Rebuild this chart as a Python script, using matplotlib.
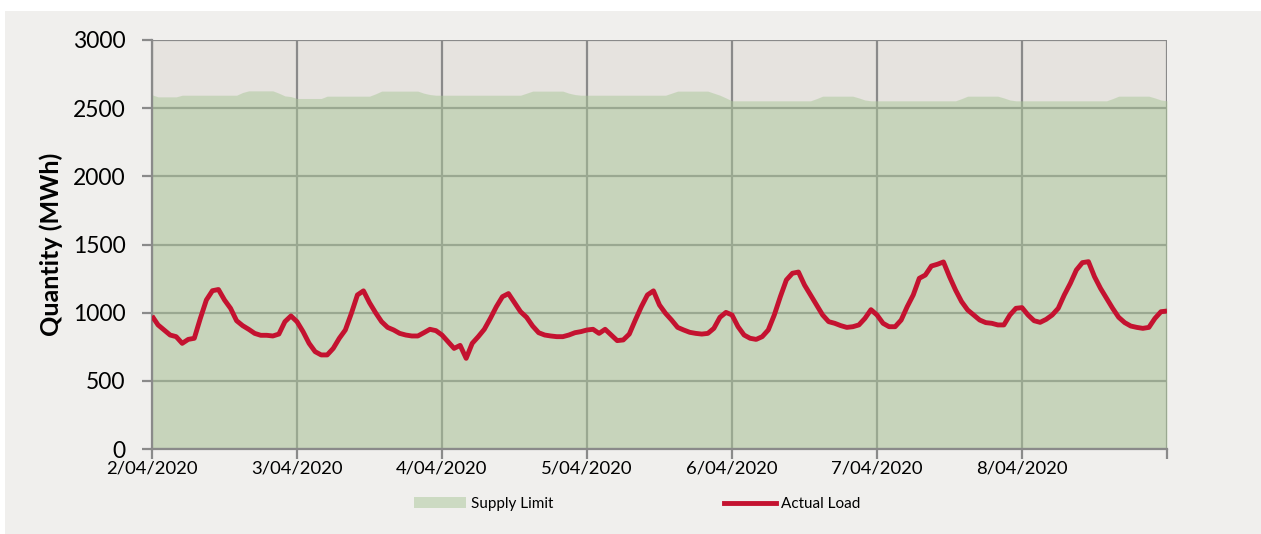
#!/usr/bin/env python3
"""Supply limit vs actual load, 2-8 April 2020 (hourly readings)."""

import matplotlib

matplotlib.use("Agg")
import matplotlib.pyplot as plt
from matplotlib.lines import Line2D
from matplotlib.patches import Patch, Rectangle
import numpy as np

plt.rcParams["font.family"] = ["Lato", "DejaVu Sans"]

DAY_LABELS = ["2/04/2020", "3/04/2020", "4/04/2020", "5/04/2020",
              "6/04/2020", "7/04/2020", "8/04/2020", ""]

# actual load (MWh), one value per hour, 2/04 00:00 .. 9/04 00:00
ACTUAL_LOAD = [
    976, 910, 873, 836, 824, 775, 804, 812, 958, 1093, 1161, 1170,
    1093, 1032, 941, 905, 878, 848, 834, 834, 829, 843, 934, 976,
    934, 861, 775, 714, 690, 690, 738, 812, 873, 995, 1130, 1160,
    1073, 1000, 934, 892, 873, 848, 836, 829, 829, 853, 878, 868,
    836, 787, 738, 760, 665, 775, 824, 878, 958, 1044, 1117, 1140,
    1073, 1007, 966, 902, 853, 836, 829, 824, 824, 836, 853, 861,
    873, 878, 848, 878, 836, 795, 800, 843, 946, 1044, 1130, 1160,
    1056, 995, 946, 892, 873, 856, 848, 843, 848, 885, 966, 1002,
    983, 897, 836, 812, 804, 824, 873, 983, 1117, 1240, 1289, 1298,
    1203, 1130, 1056, 983, 934, 922, 905, 892, 897, 910, 958, 1022,
    983, 922, 897, 897, 946, 1044, 1130, 1252, 1276, 1342, 1355, 1372,
    1264, 1166, 1081, 1020, 983, 946, 927, 922, 910, 910, 983, 1032,
    1037, 983, 941, 929, 951, 983, 1032, 1130, 1215, 1313, 1367, 1374,
    1264, 1178, 1105, 1032, 966, 927, 902, 892, 885, 892, 958, 1007,
    1012,
]

# supply limit (MWh), same hourly grid
SUPPLY_LIMIT = [
    2598, 2583, 2583, 2583, 2583, 2595, 2595, 2595, 2595, 2595, 2595, 2595,
    2595, 2595, 2595, 2615, 2627, 2627, 2627, 2627, 2627, 2610, 2590, 2585,
    2571, 2571, 2571, 2571, 2571, 2588, 2588, 2588, 2588, 2588, 2588, 2588,
    2588, 2605, 2625, 2625, 2625, 2625, 2625, 2625, 2625, 2610, 2600, 2595,
    2595, 2595, 2595, 2595, 2595, 2595, 2595, 2595, 2595, 2595, 2595, 2595,
    2595, 2595, 2610, 2625, 2625, 2625, 2625, 2625, 2625, 2610, 2600, 2595,
    2595, 2595, 2595, 2595, 2595, 2595, 2595, 2595, 2595, 2595, 2595, 2595,
    2595, 2595, 2610, 2625, 2625, 2625, 2625, 2625, 2625, 2610, 2595, 2575,
    2554, 2554, 2554, 2554, 2554, 2554, 2554, 2554, 2554, 2554, 2554, 2554,
    2554, 2554, 2570, 2588, 2588, 2588, 2588, 2588, 2588, 2575, 2560, 2554,
    2554, 2554, 2554, 2554, 2554, 2554, 2554, 2554, 2554, 2554, 2554, 2554,
    2554, 2554, 2570, 2588, 2588, 2588, 2588, 2588, 2588, 2575, 2560, 2554,
    2554, 2554, 2554, 2554, 2554, 2554, 2554, 2554, 2554, 2554, 2554, 2554,
    2554, 2554, 2554, 2570, 2588, 2588, 2588, 2588, 2588, 2588, 2575, 2560,
    2554,
]

GRID = "#8a8a8a"


def main() -> int:
    hours = np.arange(len(ACTUAL_LOAD))

    fig = plt.figure(figsize=(12.61, 5.34), dpi=100, facecolor="white")
    fig.patches.append(Rectangle((5 / 1261, 0), 1, 1 - 11 / 534, transform=fig.transFigure,
                                 facecolor="#f0efed", edgecolor="none", zorder=-10))
    ax = fig.add_axes([152 / 1261, 1 - 449 / 534, (1167 - 152) / 1261, (449 - 40) / 534])
    ax.set_facecolor("#e6e3df")

    ax.fill_between(hours, 0, SUPPLY_LIMIT, color="#aac799", alpha=0.5, linewidth=0, zorder=2)
    ax.plot(hours, ACTUAL_LOAD, color="#c41230", linewidth=3.5, solid_joinstyle="round",
            solid_capstyle="butt", zorder=3)

    ax.set_xlim(0, 168)
    ax.set_ylim(0, 3000)
    ax.set_xticks(np.arange(0, 169, 24))
    ax.set_xticklabels(DAY_LABELS)
    ax.set_yticks(np.arange(0, 3001, 500))
    ax.grid(True, color=GRID, linewidth=1.6, zorder=1)
    ax.set_axisbelow(True)
    for side in ("top", "right"):
        ax.spines[side].set_visible(False)
    for side in ("left", "bottom"):
        ax.spines[side].set_color(GRID)
        ax.spines[side].set_linewidth(1.6)
    ax.tick_params(axis="both", length=7, width=1.6, color=GRID)
    ax.tick_params(axis="y", labelsize=16.5, pad=12)
    ax.tick_params(axis="x", labelsize=13.3, pad=1.5)
    ax.set_ylabel("Quantity (MWh)", fontsize=18, fontweight="bold", labelpad=7)

    handles = [
        Patch(facecolor="#aac799", alpha=0.5, edgecolor="none", label="Supply Limit"),
        Line2D([], [], color="#c41230", linewidth=3.5, label="Actual Load"),
    ]
    fig.legend(handles=handles, loc="center", bbox_to_anchor=(637 / 1261, 1 - 504 / 534), ncol=2,
               frameon=False, fontsize=11, handlelength=3.4, handleheight=0.75,
               handletextpad=0.33, columnspacing=11.2)

    fig.savefig("out.png", dpi=100, facecolor=fig.get_facecolor())
    plt.close(fig)
    return 0


if __name__ == "__main__":
    raise SystemExit(main())
